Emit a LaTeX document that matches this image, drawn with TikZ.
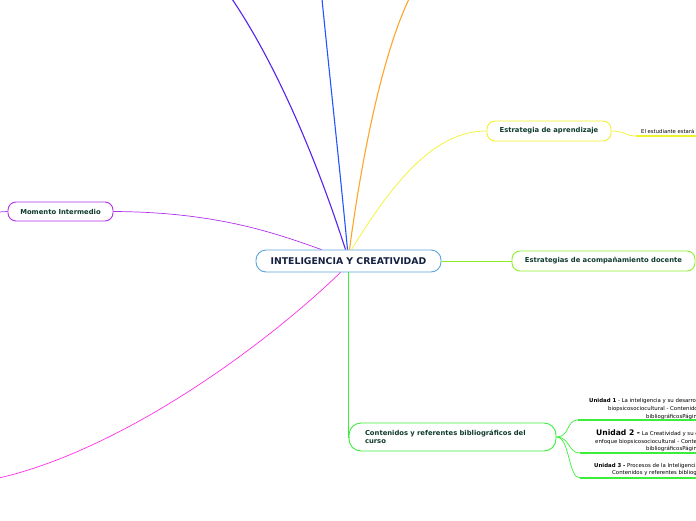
\documentclass[tikz,border=0pt]{standalone}
\usepackage{fontspec}
\setmainfont{DejaVu Sans}
\usetikzlibrary{calc}
\definecolor{txtgreen}{HTML}{0E3B2B}
\definecolor{navy}{HTML}{14213F}
\definecolor{cblue}{HTML}{5AA5DC}
\definecolor{cviolet}{HTML}{5522EE}
\definecolor{cblue2}{HTML}{2255FF}
\definecolor{corange}{HTML}{FFA52A}
\definecolor{cyellow}{HTML}{F2F22A}
\definecolor{cpurple}{HTML}{B030EE}
\definecolor{clime}{HTML}{8CEE2A}
\definecolor{cgreen}{HTML}{3CEE3C}
\definecolor{cmagenta}{HTML}{FF2EE8}
\begin{document}
\begin{tikzpicture}[x=1pt,y=-1pt,
  topic/.style={draw, rounded corners=8pt, fill=white, line width=0.9pt,
    font=\bfseries\fontsize{6.8}{8.5}\selectfont, text=txtgreen,
    minimum height=20pt, inner sep=0pt},
  branch/.style={line width=1.1pt},
  thin/.style={line width=0.7pt},
  small/.style={font=\fontsize{5.4}{6}\selectfont, inner sep=0pt, anchor=base west, text=black},
  uline/.style={line width=1.6pt}]
\useasboundingbox (0,0) rectangle (696,520);
\clip (0,0) rectangle (696,520);

% nodes
\node[topic, draw=cblue, rounded corners=10pt, minimum width=185pt, minimum height=22pt,
  font=\bfseries\fontsize{9.3}{10}\selectfont, text=navy] (central) at (348.5,261) {INTELIGENCIA Y CREATIVIDAD};
\node[topic, draw=cyellow, minimum width=124pt] (estr) at (549,131) {Estrategia de aprendizaje};
\node[topic, draw=cpurple, minimum width=105pt, minimum height=19pt] (mom) at (60.5,211.5) {Momento Intermedio};
\node[topic, draw=clime, minimum width=183pt] (acomp) at (603.5,261) {Estrategias de acompañamiento docente};
\node[topic, draw=cgreen, rounded corners=12pt, minimum width=207pt, minimum height=28pt,
  text width=175pt, align=left, inner xsep=16pt] (cont) at (452.5,437) {Contenidos y referentes bibliográficos del curso};

\node[small, font=\fontsize{5.3}{6}\selectfont] (est1) at (641,133) {El estudiante estará en};
\coordinate (est1s) at (636,136);

% unit texts
\node[small] (u1a) at (589,402) {\textbf{Unidad 1} - La inteligencia y su desarrollo};
\node[small] (u1b) at (608,410.5) {biopsicosociocultural - Contenidos};
\node[small] (u1c) at (646,418) {bibliográficosPágina};
\coordinate (u1s) at (578,420);
\node[small] (u2a) at (596,435.5) {{\bfseries\fontsize{7.6}{8}\selectfont Unidad 2 -} La Creatividad y su desarrollo};
\node[small] (u2b) at (595,443) {enfoque biopsicosociocultural - Contenidos};
\node[small] (u2c) at (646,450.5) {bibliográficosPágina};
\coordinate (u2s) at (580,453);
\node[small] (u3a) at (594,467) {\textbf{Unidad 3 -} Procesos de la Inteligencia};
\node[small] (u3b) at (612,474.5) {Contenidos y referentes bibliográficos};
\coordinate (u3s) at (580,478);

% free ends off the page
\coordinate (offA) at (232,-1);
\coordinate (offB) at (322,-1);
\coordinate (offC) at (409,-1);
\coordinate (offD) at (-1,478);
\coordinate (offE) at (-1,212);
\coordinate (rt) at (697,0);

% connectors
\draw[branch, cviolet] ($(central.north)+(-3,0)$) .. controls (320,170) and (280,70) .. (offA);
\draw[branch, cblue2] ($(central.north)+(-1,0)$) .. controls (340,170) and (330,80) .. (offB);
\draw[branch, corange] ($(central.north)+(1,0)$) .. controls (360,170) and (380,60) .. (offC);
\draw[thin, cyellow] ($(central.north)+(3,0)$) .. controls (400,170) and (440,131) .. (estr.west);
\draw[thin, cpurple] ($(central.north)+(-27,0)$) .. controls (280,235) and (220,212) .. (mom.east);
\draw[thin, cpurple] (mom.west) -- (offE);
\draw[thin, clime] (central.east) -- (acomp.west);
\draw[thin, cgreen] (central.south) -- (central.south |- cont.west) -- (cont.west);
\draw[thin, cmagenta] ($(central.south)+(-8,0)$) .. controls (260,350) and (120,450) .. (offD);
\draw[thin, cyellow] (estr.east) .. controls (624,131) and (626,136) .. (est1s);
\draw[uline, cyellow] (est1s) -- (est1s -| rt);
\draw[thin, cgreen] (cont.east) .. controls (570,437) and (566,420) .. (u1s);
\draw[thin, cgreen] (cont.east) .. controls (570,437) and (568,453) .. (u2s);
\draw[thin, cgreen] (cont.east) .. controls (570,437) and (568,478) .. (u3s);
\draw[uline, cgreen] (u1s) -- (u1s -| rt);
\draw[uline, cgreen] (u2s) -- (u2s -| rt);
\draw[uline, cgreen] (u3s) -- (u3s -| rt);
\end{tikzpicture}
\end{document}
